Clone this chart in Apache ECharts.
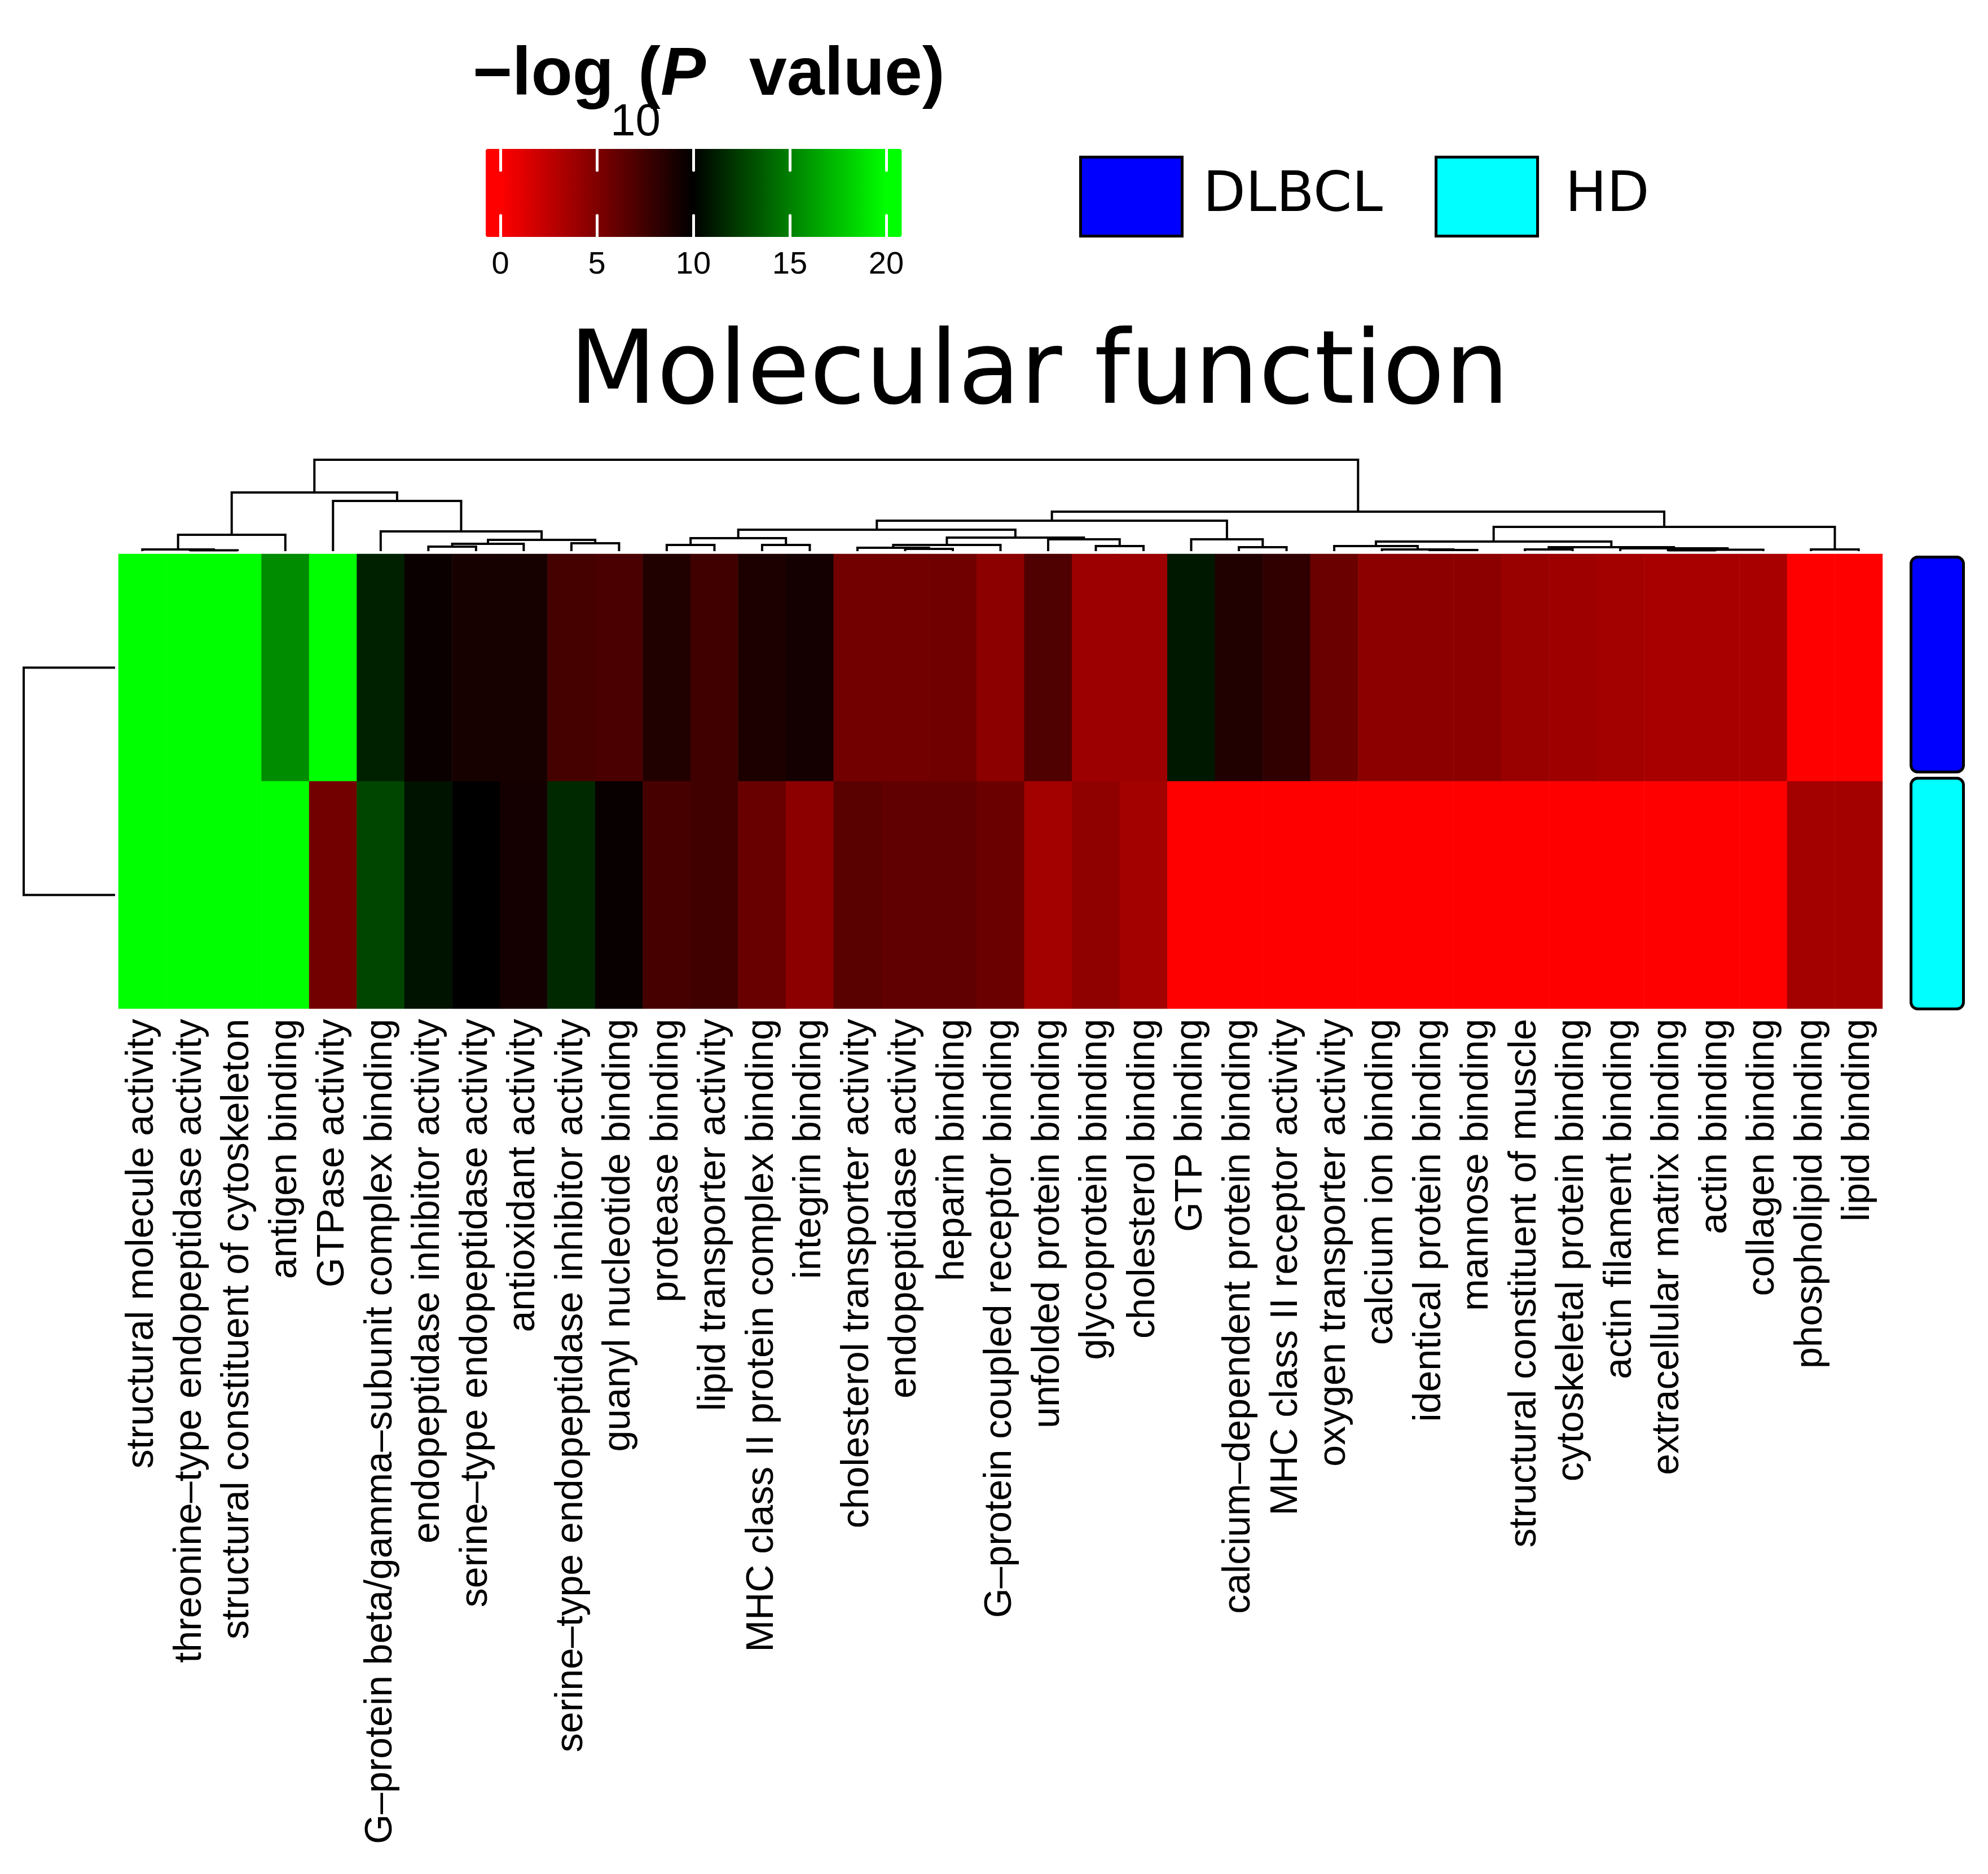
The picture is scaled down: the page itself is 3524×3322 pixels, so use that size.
<!DOCTYPE html>
<html>
<head>
<meta charset="utf-8">
<script src="https://cdn.jsdelivr.net/npm/echarts/dist/echarts.min.js"></script>
<style>
html,body{margin:0;padding:0;background:#ffffff;}
#chart{width:3524px;height:3322px;}
</style>
</head>
<body>
<div id="chart"></div>
<script>
// ---------------- data ----------------
const categories = [
  'structural molecule activity',
  'threonine\u2013type endopeptidase activity',
  'structural constituent of cytoskeleton',
  'antigen binding',
  'GTPase activity',
  'G\u2013protein beta/gamma\u2013subunit complex binding',
  'endopeptidase inhibitor activity',
  'serine\u2013type endopeptidase activity',
  'antioxidant activity',
  'serine\u2013type endopeptidase inhibitor activity',
  'guanyl nucleotide binding',
  'protease binding',
  'lipid transporter activity',
  'MHC class II protein complex binding',
  'integrin binding',
  'cholesterol transporter activity',
  'endopeptidase activity',
  'heparin binding',
  'G\u2013protein coupled receptor binding',
  'unfolded protein binding',
  'glycoprotein binding',
  'cholesterol binding',
  'GTP binding',
  'calcium\u2013dependent protein binding',
  'MHC class II receptor activity',
  'oxygen transporter activity',
  'calcium ion binding',
  'identical protein binding',
  'mannose binding',
  'structural constituent of muscle',
  'cytoskeletal protein binding',
  'actin filament binding',
  'extracellular matrix binding',
  'actin binding',
  'collagen binding',
  'phospholipid binding',
  'lipid binding'
];
const rowGroups = ['DLBCL', 'HD'];

// -log10(P value)
const dlbclValues = [20, 20, 20, 15.5, 20, 11.3, 9.6, 9.1, 9.1, 7.3, 7.1, 8.7, 7.5, 8.9, 9.2,
  5.5, 5.5, 5.6, 4.5, 6.9, 3.9, 3.9, 10.9, 8.7, 8.1, 5.8, 4.5, 4.5, 4.5, 4.0, 3.8, 3.6, 3.4, 3.4, 3.4, 0, 0];
const hdValues = [20, 20, 20, 20, 5.5, 12.7, 10.7, 10.0, 9.2, 11.6, 9.7, 7.2, 7.5, 5.9, 4.5,
  6.5, 6.2, 6.2, 5.8, 3.6, 4.4, 3.6, 0, 0, 0, 0, 0, 0, 0, 0, 0, 0, 0, 0, 0, 3.6, 3.6];

// column dendrogram (hclust style: negative = leaf number, positive = earlier merge)
const colMerge = [
  [-2, -3], [-1, 1], [2, -4], [-7, -8], [4, -9], [-10, -11], [5, 6], [-6, 7], [-5, 8], [3, 9],
  [-12, -13], [-14, -15], [11, 12], [-17, -18], [-16, 14], [15, -19], [-21, -22], [-20, 17],
  [16, 18], [13, 19], [-24, -25], [-23, 21], [20, 22], [-28, -29], [-27, 24], [-26, 25],
  [-30, -31], [-33, -34], [28, -35], [-32, 29], [27, 30], [26, 31], [-36, -37], [32, 33],
  [23, 34], [10, 35]
];
const colHeights = [
  1.5, 3, 29, 8, 13, 14, 20, 35, 89, 104,
  11, 11, 23, 4, 6, 11, 9, 21,
  24, 38, 7, 21, 54, 2, 3, 9,
  3, 1.5, 2.5, 5, 7, 17, 3, 43,
  70, 162
];
// row dendrogram
const rowMerge = [[-1, -2]];
const rowHeights = [1];

// colour key
const keyTicks = [0, 5, 10, 15, 20];
const keyExtent = [-0.76, 20.8];
const scaleColors = ['#ff0000', '#000000', '#00ff00'];
const groupColors = ['#0000ff', '#00ffff'];

// ---------------- helpers ----------------
function dendroSegments(merge, heights) {
  const pos = [], hh = [], segs = [];
  const node = id => id < 0 ? { p: -id - 1, h: 0 } : { p: pos[id - 1], h: hh[id - 1] };
  merge.forEach((m, i) => {
    const a = node(m[0]), b = node(m[1]);
    pos[i] = (a.p + b.p) / 2;
    hh[i] = heights[i];
    segs.push([a.p, a.h, b.p, b.h, heights[i]]);
  });
  return segs;
}
const colSegs = dendroSegments(colMerge, colHeights);
const rowSegs = dendroSegments(rowMerge, rowHeights);

const heatData = [];
categories.forEach((c, i) => {
  heatData.push([i, 0, dlbclValues[i]]);
  heatData.push([i, 1, hdValues[i]]);
});

const HEAT = { left: 210, top: 982, width: 3127, height: 806 };
const LW = 4;
const labelFont = 'Liberation Sans, Arial, Helvetica, sans-serif';

function hiddenAxis(extra) {
  return Object.assign({
    show: false, axisLine: { show: false }, axisTick: { show: false },
    axisLabel: { show: false }, splitLine: { show: false }
  }, extra);
}

const chart = echarts.init(document.getElementById('chart'), null, { renderer: 'canvas' });

const sideInsets = [[0, 17], [-11, 0]];

function sideBarSeries(gi) {
  return {
    type: 'custom',
    name: rowGroups[gi],
    xAxisIndex: 3, yAxisIndex: 3,
    data: [[gi]],
    z: 3,
    renderItem: (params, api) => {
      const idx = api.value(0);
      const p0 = api.coord([0, idx - 0.5]);
      const p1 = api.coord([1, idx + 0.5]);
      const ins = sideInsets[idx];
      const y0 = Math.min(p0[1], p1[1]) + ins[0];
      const y1 = Math.max(p0[1], p1[1]) - ins[1];
      const b = 2.5;
      return {
        type: 'rect',
        shape: { x: p0[0] + b, y: y0 + b, width: p1[0] - p0[0] - 2 * b, height: y1 - y0 - 2 * b, r: 12 },
        style: { fill: groupColors[idx], stroke: '#000000', lineWidth: 5 }
      };
    }
  };
}

const keyLen = keyExtent[1] - keyExtent[0];
const frac = v => (v - keyExtent[0]) / keyLen;

const option = {
  backgroundColor: '#ffffff',
  animation: false,
  grid: [
    Object.assign({ outerBoundsMode: 'none', containLabel: false }, HEAT),
    { left: 210, top: 815, width: 3127, height: 162, outerBoundsMode: 'none', containLabel: false },
    { left: 42, top: 982, width: 162, height: 806, outerBoundsMode: 'none', containLabel: false },
    { left: 3385, top: 985, width: 98, height: 806, outerBoundsMode: 'none', containLabel: false },
    { left: 887, top: 264, width: 684, height: 156, outerBoundsMode: 'none', containLabel: false }
  ],
  xAxis: [
    {
      type: 'category', gridIndex: 0, data: categories, position: 'bottom',
      axisLine: { show: false }, axisTick: { show: false }, splitLine: { show: false },
      axisLabel: {
        interval: 0, rotate: 90, margin: 18, color: '#000000',
        fontFamily: labelFont, fontSize: 68
      }
    },
    hiddenAxis({ type: 'value', gridIndex: 1, min: -0.5, max: categories.length - 0.5 }),
    hiddenAxis({ type: 'value', gridIndex: 2, min: 0, max: 1, inverse: true }),
    hiddenAxis({ type: 'value', gridIndex: 3, min: 0, max: 1 }),
    {
      type: 'value', gridIndex: 4, min: 0, max: 20, interval: 5, position: 'bottom', z: 10,
      axisLine: { show: false }, splitLine: { show: false },
      axisTick: { show: true, inside: true, length: 38, lineStyle: { color: '#ffffff', width: 5, cap: 'round' } },
      axisLabel: { show: true, margin: 22, color: '#000000', fontFamily: labelFont, fontSize: 56 }
    },
    {
      type: 'value', gridIndex: 4, min: 0, max: 20, interval: 5, position: 'top', z: 10,
      axisLine: { show: false }, splitLine: { show: false },
      axisTick: { show: true, inside: true, length: 38, lineStyle: { color: '#ffffff', width: 5, cap: 'round' } },
      axisLabel: { show: false }
    }
  ],
  yAxis: [
    {
      type: 'category', gridIndex: 0, data: rowGroups, inverse: true,
      axisLine: { show: false }, axisTick: { show: false }, axisLabel: { show: false }, splitLine: { show: false }
    },
    hiddenAxis({ type: 'value', gridIndex: 1, min: 0, max: 162 }),
    hiddenAxis({ type: 'value', gridIndex: 2, min: -0.5, max: rowGroups.length - 0.5, inverse: true }),
    hiddenAxis({ type: 'value', gridIndex: 3, min: -0.5, max: rowGroups.length - 0.5, inverse: true }),
    hiddenAxis({ type: 'value', gridIndex: 4, min: 0, max: 1 })
  ],
  visualMap: {
    type: 'continuous', show: false, min: 0, max: 20, dimension: 2, seriesIndex: 0,
    inRange: { color: scaleColors }
  },
  legend: {
    left: 1908, top: 271, orient: 'horizontal', icon: 'rect', selectedMode: false,
    itemWidth: 180, itemHeight: 140, itemGap: 92,
    textStyle: { fontFamily: 'DejaVu Sans', fontSize: 98, color: '#000000', padding: [0, 0, 0, 32] },
    data: [
      { name: 'DLBCL', itemStyle: { color: groupColors[0], borderColor: '#000000', borderWidth: 5 } },
      { name: 'HD', itemStyle: { color: groupColors[1], borderColor: '#000000', borderWidth: 5 }, textStyle: { padding: [0, 0, 0, 44] } }
    ]
  },
  graphic: [
    { type: 'text', x: 1842, y: 667, style: { text: 'Molecular function', fontFamily: 'DejaVu Sans', fontSize: 180, fill: '#000000', align: 'center', verticalAlign: 'middle' } },
    { type: 'text', x: 838, y: 135, style: { text: '\u2212log', fontFamily: labelFont, fontWeight: 'bold', fontSize: 120, fill: '#000000', align: 'left', verticalAlign: 'middle' } },
    { type: 'text', x: 1082, y: 218, style: { text: '10', fontFamily: labelFont, fontSize: 80, fill: '#000000', align: 'left', verticalAlign: 'middle' } },
    { type: 'text', x: 1131, y: 135, style: { text: '(', fontFamily: labelFont, fontWeight: 'bold', fontSize: 120, fill: '#000000', align: 'left', verticalAlign: 'middle' } },
    { type: 'text', x: 1171, y: 135, style: { text: 'P', fontFamily: labelFont, fontWeight: 'bold', fontStyle: 'italic', fontSize: 120, fill: '#000000', align: 'left', verticalAlign: 'middle' } },
    { type: 'text', x: 1328, y: 135, style: { text: 'value)', fontFamily: labelFont, fontWeight: 'bold', fontSize: 120, fill: '#000000', align: 'left', verticalAlign: 'middle' } }
  ],
  series: [
    {
      type: 'heatmap', xAxisIndex: 0, yAxisIndex: 0, data: heatData,
      itemStyle: { borderWidth: 0 }, emphasis: { disabled: true }, progressive: 0
    },
    {
      type: 'custom', xAxisIndex: 1, yAxisIndex: 1, data: colSegs, clip: false,
      encode: { x: [0, 2], y: [1, 3, 4] },
      renderItem: (params, api) => {
        const a = api.value(0), ha = api.value(1), b = api.value(2), hb = api.value(3), h = api.value(4);
        return {
          type: 'polyline',
          shape: { points: [api.coord([a, ha]), api.coord([a, h]), api.coord([b, h]), api.coord([b, hb])] },
          style: { stroke: '#000000', lineWidth: LW, fill: null }
        };
      }
    },
    {
      type: 'custom', xAxisIndex: 2, yAxisIndex: 2, data: rowSegs, clip: false,
      encode: { y: [0, 2], x: [1, 3, 4] },
      renderItem: (params, api) => {
        const a = api.value(0), ha = api.value(1), b = api.value(2), hb = api.value(3), h = api.value(4);
        return {
          type: 'polyline',
          shape: { points: [api.coord([ha, a]), api.coord([h, a]), api.coord([h, b]), api.coord([hb, b])] },
          style: { stroke: '#000000', lineWidth: LW, fill: null }
        };
      }
    },
    sideBarSeries(0),
    sideBarSeries(1),
    {
      type: 'custom', xAxisIndex: 4, yAxisIndex: 4, data: [keyExtent], clip: false, z: 1,
      encode: { x: [0, 1] },
      renderItem: (params, api) => {
        const p0 = api.coord([api.value(0), 1]);
        const p1 = api.coord([api.value(1), 0]);
        return {
          type: 'rect',
          shape: { x: p0[0], y: p0[1], width: p1[0] - p0[0], height: p1[1] - p0[1], r: 4 },
          style: {
            fill: new echarts.graphic.LinearGradient(0, 0, 1, 0, [
              { offset: 0, color: scaleColors[0] },
              { offset: frac(keyTicks[0]), color: scaleColors[0] },
              { offset: frac(keyTicks[2]), color: scaleColors[1] },
              { offset: frac(keyTicks[4]), color: scaleColors[2] },
              { offset: 1, color: scaleColors[2] }
            ])
          }
        };
      }
    }
  ]
};

chart.setOption(option);
</script>
</body>
</html>
